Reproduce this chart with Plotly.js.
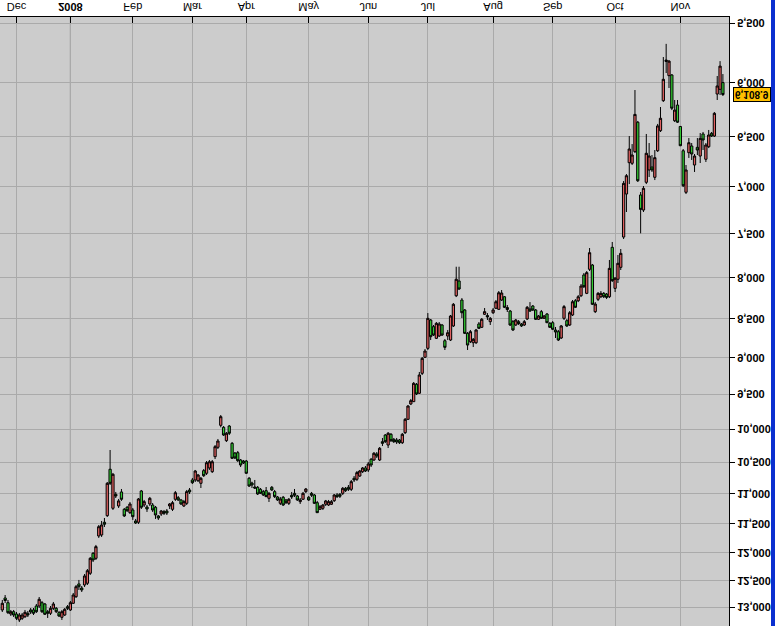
<!DOCTYPE html>
<html><head><meta charset="utf-8">
<script src="https://cdn.plot.ly/plotly-3.0.1.min.js"></script>
<style>
html,body{margin:0;padding:0;background:#fff;overflow:hidden}
#wrap{position:relative;width:775px;height:626px}
#chart{position:absolute;left:0;top:0;width:775px;height:626px;transform:scaleY(-1);transform-origin:50% 50%}
#bar{position:absolute;left:771px;top:0;width:4px;height:626px;background:#0a2fd0}
</style></head>
<body><div id="wrap"><div id="chart"></div><div id="bar"></div></div>
<script>
const startDate = '2007-11-26';
const holidays = ['2007-12-25','2007-12-26','2008-01-01','2008-03-21','2008-03-24','2008-05-01'];

const open = [
13056,12827,12917,13134,13089,13134,13250,13217,13186,13120,
13056,13056,12980,12980,12917,12941,13089,13120,13024,13024,
13108,13198,13153,12993,13056,12928,12803,12565,12640,12584,
12552,12369,12010,12099,11707,11690,11473,11362,10611,11239,
11010,11201,10972,11256,11222,11312,11267,11451,11473,10956,
11185,11218,11168,11185,11222,11367,11334,11295,11284,11201,
11256,11091,11065,11102,11201,11157,10940,10780,10780,10791,
10833,10633,10674,10591,10649,10416,10273,9946,9975,10173,
9956,10213,10360,10355,10467,10483,10483,10753,10828,10892,
10897,10929,10967,10951,11075,10897,10967,11053,11157,11058,
11102,11157,11026,10994,11037,11130,11091,10967,11058,10994,
11021,11147,11256,11239,11173,11185,11173,11114,11021,11010,
10994,10913,10897,10929,10753,10769,10717,10649,10591,10622,
10456,10467,10375,10467,10188,10089,10239,10078,10153,10163,
10163,10204,10054,9858,9638,9605,9362,9487,9212,8997,
8879,8516,8600,8749,8719,8579,8780,8719,8771,8591,
8217,8040,8269,8391,8685,8793,8806,8806,8566,8608,
8445,8460,8537,8425,8370,8383,8269,8229,8361,8404,
8537,8579,8537,8566,8579,8503,8379,8342,8391,8507,
8412,8495,8441,8558,8550,8642,8664,8745,8495,8525,
8579,8453,8278,8278,8217,7969,8188,7903,7853,8412,
8260,8229,8188,8197,8229,7651,8128,8020,7880,7536,
7073,6754,6760,6645,6363,7083,7242,6952,6827,6797,
6901,6636,6443,6164,5818,5941,5935,6349,6204,6403,
6636,7055,6655,6590,6777,6603,6688,6474,6720,6597,
6468,6494,6104,6062,6002];

const high = [
13095,12922,13134,13172,13192,13250,13290,13250,13211,13192,
13134,13153,13114,13018,13114,13153,13211,13153,13056,13114,
13192,13250,13172,13056,13075,12941,12827,12677,12715,12621,
12584,12400,12165,12129,11741,11724,11553,11384,10860,11267,
11070,11234,11118,11384,11300,11334,11434,11502,11502,11251,
11218,11300,11201,11300,11417,11434,11367,11351,11351,11251,
11284,11118,11118,11185,11218,11185,11005,10844,10812,10812,
10908,10732,10701,10622,10669,10452,10299,9975,10103,10193,
10089,10452,10452,10498,10576,10529,10685,10892,10908,10924,
11021,11005,11037,11053,11135,10956,11070,11118,11185,11201,
11168,11185,11086,11053,11118,11168,11102,10989,11118,11053,
11168,11317,11267,11267,11201,11201,11185,11135,11070,11070,
11021,10972,10956,10956,10812,10796,10732,10669,10654,10654,
10576,10483,10436,10483,10254,10208,10284,10193,10208,10223,
10223,10223,10074,9868,9653,9609,9511,9497,9235,9006,
8901,8771,8719,8758,8732,8719,8901,8771,8784,8604,
8233,8148,8491,8694,8901,8810,8862,8823,8629,8617,
8453,8516,8579,8441,8379,8391,8281,8367,8416,8591,
8655,8591,8579,8604,8591,8516,8416,8404,8516,8516,
8503,8503,8554,8617,8642,8745,8784,8758,8516,8604,
8591,8466,8367,8294,8233,8124,8197,7923,8330,8429,
8281,8245,8245,8257,8245,8052,8172,8064,7911,7558,
7263,6970,6777,6658,6949,7495,7263,6970,6898,6847,
6929,6648,6455,6176,5918,6050,6250,6361,6370,6591,
7001,7073,6707,6727,6847,6678,6757,6629,6747,6610,
6503,6503,6158,6113,6122];

const low = [
12865,12771,12865,13056,13056,13095,13114,13114,13056,13075,
13018,13018,12941,12809,12884,12922,13056,12980,12903,12999,
13075,13056,13018,12961,12884,12733,12584,12491,12603,12382,
12291,12076,11987,11863,11519,11451,11401,10812,10314,10669,
10972,11086,10924,11234,11201,11135,11234,11417,11070,10940,
11102,11185,11053,11152,11201,11351,11267,11267,11251,11152,
11118,10956,11037,11086,11102,10940,10908,10748,10622,10685,
10732,10607,10483,10467,10467,10239,10148,9796,9956,10044,
9941,10193,10345,10329,10452,10467,10467,10732,10807,10780,
10876,10908,10940,10892,10972,10876,10940,11037,11053,11037,
11086,11070,10972,10924,11021,11070,10972,10908,11037,10972,
11005,11118,11185,11168,11102,11102,11102,11005,10989,10989,
10892,10892,10860,10780,10717,10638,10622,10576,10560,10498,
10436,10345,10345,10269,10133,10074,10044,10059,10133,10133,
10148,10059,9839,9653,9567,9331,9345,9194,8993,8888,
8429,8503,8579,8541,8541,8566,8758,8642,8453,8306,
7873,7873,8245,8379,8668,8642,8745,8629,8541,8491,
8367,8429,8478,8367,8269,8160,8148,8221,8330,8391,
8516,8503,8516,8554,8516,8342,8294,8330,8379,8453,
8391,8453,8429,8541,8529,8604,8642,8579,8330,8503,
8404,8269,8257,8209,8076,7946,7923,7659,7841,8294,
8172,8160,8172,8184,7795,7591,7993,7738,7670,6939,
6868,6494,6571,6068,6351,7052,6990,6474,6561,6678,
6629,6379,6222,5780,5669,5806,5927,6158,6158,6398,
6619,6777,6513,6561,6668,6513,6465,6455,6561,6436,
6455,6268,5944,5815,5927];

const close = [
12928,12875,13108,13089,13153,13217,13153,13153,13101,13153,
13095,13120,13089,12852,13089,13139,13120,13024,12941,13089,
13172,13089,13043,13024,12917,12771,12616,12616,12677,12418,
12322,12099,12129,11893,11548,11519,11507,10833,10833,10690,
11037,11118,11091,11367,11279,11168,11379,11485,11086,11222,
11130,11251,11075,11267,11351,11401,11284,11322,11317,11168,
11147,10984,11102,11168,11130,10967,10972,10823,10638,10701,
10753,10712,10509,10494,10494,10264,10178,9820,10089,10063,
10063,10441,10436,10478,10545,10514,10674,10876,10860,10908,
11005,10994,11021,11048,10994,10940,11048,11102,11086,11185,
11147,11091,11053,11026,11102,11102,10994,10924,11102,11026,
11157,11312,11213,11185,11118,11130,11130,11021,11048,11042,
10913,10951,10929,10807,10780,10664,10638,10591,10638,10529,
10545,10364,10406,10288,10213,10188,10063,10173,10188,10193,
10204,10078,9858,9667,9591,9349,9497,9235,9011,8914,
8495,8728,8707,8558,8566,8707,8866,8677,8466,8321,
8020,8136,8425,8685,8836,8664,8762,8642,8621,8507,
8412,8478,8495,8391,8290,8181,8184,8358,8385,8579,
8642,8516,8560,8591,8537,8358,8404,8391,8507,8466,
8495,8466,8550,8608,8633,8668,8771,8591,8350,8591,
8425,8290,8358,8229,8100,8108,7942,7712,8321,8318,
8188,8188,8229,8237,7892,8036,8008,7833,7719,6963,
6885,6619,6678,6290,6936,7235,7014,6661,6688,6827,
6704,6398,6326,5973,5806,5815,6233,6250,6363,6587,
6987,6827,6558,6668,6688,6629,6516,6532,6580,6484,
6494,6280,6032,5858,6108.9];

const monthTicks = ['2007-12-03 12:00','2008-01-02 12:00','2008-02-01 12:00','2008-03-03 12:00',
  '2008-04-01 12:00','2008-05-02 12:00','2008-06-02 12:00','2008-07-01 12:00',
  '2008-08-01 12:00','2008-09-01 12:00','2008-10-01 12:00','2008-11-03 12:00'];
const monthLabels = ['Dec','<b>2008</b>','Feb','Mar','Apr','May','Jun','Jul','Aug','Sep','Oct','Nov'];
const yTicks = [5500,6000,6500,7000,7500,8000,8500,9000,9500,10000,10500,11000,11500,12000,12500,13000];
const yearStart = '2008-01-02 12:00';
const lastPrice = close[close.length - 1];

function fmt(v, d) {
  const parts = v.toFixed(d || 0).split('.');
  parts[0] = parts[0].replace(/\B(?=(\d{3})+(?!\d))/g, ',');
  return parts.join('.');
}
function tradingDays(start, n) {
  const out = [];
  const d = new Date(start + 'T00:00:00Z');
  while (out.length < n) {
    const wd = d.getUTCDay();
    const s = d.toISOString().slice(0, 10);
    if (wd !== 0 && wd !== 6 && holidays.indexOf(s) < 0) out.push(s + ' 12:00');
    d.setUTCDate(d.getUTCDate() + 1);
  }
  return out;
}
const dates = tradingDays(startDate, close.length);

const trace = {
  type: 'candlestick', x: dates, open: open, high: high, low: low, close: close,
  increasing: {line: {color: '#000000', width: 1}, fillcolor: '#33cc33'},
  decreasing: {line: {color: '#000000', width: 1}, fillcolor: '#e06060'},
  whiskerwidth: 0, hoverinfo: 'skip', showlegend: false
};

const layout = {
  width: 775, height: 626,
  margin: {l: 0, r: 46, t: 0, b: 17, pad: 0},
  paper_bgcolor: '#ffffff', plot_bgcolor: '#cccccc',
  showlegend: false,
  boxgap: 0.2, boxgroupgap: 0,
  xaxis: {
    type: 'date',
    range: ['2007-11-23 16:34', '2008-11-26 15:36'],
    rangebreaks: [{bounds: ['sat', 'mon']}, {values: holidays}],
    rangeslider: {visible: false},
    tickmode: 'array', tickvals: monthTicks, ticktext: monthLabels,
    ticks: 'inside', ticklen: 6, tickcolor: '#000', tickwidth: 1,
    showline: true, linecolor: '#000', linewidth: 1,
    showgrid: true, gridcolor: '#aaaaaa', gridwidth: 1,
    zeroline: false, fixedrange: true,
    tickfont: {family: 'Liberation Sans, Arial, sans-serif', size: 11, color: '#000'}
  },
  yaxis: {
    type: 'log', side: 'right',
    range: [Math.log10(5449), Math.log10(13368)],
    tickmode: 'array', tickvals: yTicks, ticktext: yTicks.map(v => fmt(v)),
    ticks: 'outside', ticklen: 5, tickcolor: '#000', tickwidth: 1,
    showline: true, linecolor: '#000', linewidth: 1,
    showgrid: true, gridcolor: '#aaaaaa', gridwidth: 1,
    zeroline: false, fixedrange: true,
    tickfont: {family: 'Liberation Sans, Arial, sans-serif', size: 11, color: '#000', weight: 'bold'}
  },
  shapes: [{
    type: 'line', xref: 'x', yref: 'paper', x0: yearStart, x1: yearStart, y0: 0, y1: 1,
    line: {color: '#777777', width: 1}, layer: 'between'
  }],
  annotations: [{
    xref: 'paper', x: 1, xanchor: 'left', xshift: 4,
    yref: 'y', y: Math.log10(lastPrice), yanchor: 'middle',
    text: fmt(lastPrice, 1), showarrow: false,
    font: {family: 'Liberation Sans, Arial, sans-serif', size: 10, color: '#000', weight: 'bold'},
    bgcolor: '#ffc000', bordercolor: '#000', borderwidth: 1, borderpad: 1
  }]
};

Plotly.newPlot('chart', [trace], layout, {displayModeBar: false, staticPlot: true});
</script>
</body></html>
